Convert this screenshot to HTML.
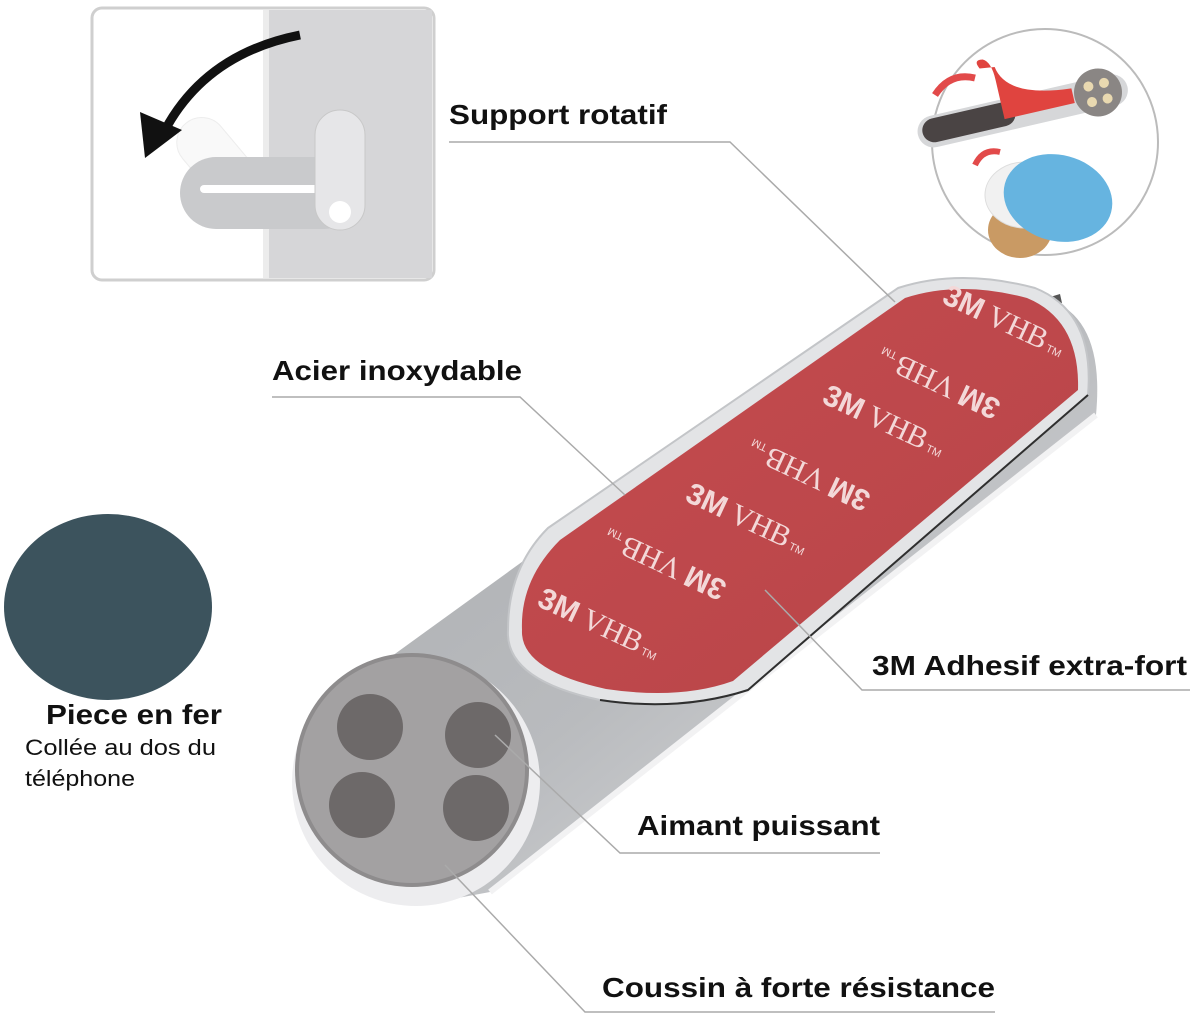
<!DOCTYPE html>
<html><head><meta charset="utf-8"><style>
html,body{margin:0;padding:0;background:#fff;}
svg{display:block;}
text{font-family:"Liberation Sans",Arial,sans-serif;fill:#111;}
.b{font-weight:bold;font-size:28px;}
.t text{fill:#f3d8d8;font-size:30px;}
.t .s{font-family:"Liberation Sans",sans-serif;font-weight:bold;}
.t .r{font-family:"Liberation Serif",serif;}
.t .m{font-size:11px;font-family:"Liberation Sans",sans-serif;}
</style></head><body>
<svg width="1200" height="1020" viewBox="0 0 1200 1020" xmlns="http://www.w3.org/2000/svg">
<defs>
<linearGradient id="sil" x1="0" y1="0" x2="1" y2="1">
<stop offset="0" stop-color="#a9abae"/><stop offset="0.5" stop-color="#b9bbbe"/><stop offset="1" stop-color="#e4e5e7"/>
</linearGradient>
<linearGradient id="red" x1="0" y1="0" x2="1" y2="1">
<stop offset="0" stop-color="#c44c4f"/><stop offset="1" stop-color="#b84448"/>
</linearGradient>
</defs>

<!-- top-left box -->
<rect x="92" y="8" width="342" height="272" rx="10" fill="#fff" stroke="#cfcfcf" stroke-width="3"/>
<rect x="268" y="10" width="164" height="268" fill="#d6d6d8"/>
<rect x="263" y="10" width="6" height="268" fill="#ececec"/>
<g opacity="0.35"><rect x="225" y="100" width="50" height="125" rx="25" fill="#eee" stroke="#ccc" transform="rotate(-40 250 200)"/></g>
<rect x="180" y="157" width="180" height="72" rx="36" fill="#c9cacc"/>
<rect x="200" y="185" width="130" height="8" rx="4" fill="#fff"/>
<rect x="315" y="110" width="50" height="120" rx="25" fill="#e6e6e8" stroke="#c8c8c8"/>
<circle cx="340" cy="212" r="11" fill="#fff"/>
<path d="M300 35 Q200 55 160 140" stroke="#111" stroke-width="9" fill="none"/>
<polygon points="145,158 140,112 182,130" fill="#111"/>

<!-- top-right circle -->
<circle cx="1045" cy="142" r="113" fill="#fff" stroke="#bbb" stroke-width="2"/>
<g transform="rotate(-13 1022 110)">
<rect x="915" y="95" width="215" height="32" rx="16" fill="#d6d7d9"/>
<rect x="920" y="98" width="95" height="24" rx="12" fill="#4a4444"/>
<path d="M990 60 Q985 50 995 52 Q1003 56 1003 75 L1003 115 L1075 115 L1075 100 Q1010 95 1005 62Z" fill="#e0443f"/>
<circle cx="1100" cy="110" r="24" fill="#8a8684"/>
<circle cx="1092" cy="102" r="5" fill="#e9d9b0"/><circle cx="1108" cy="102" r="5" fill="#e9d9b0"/><circle cx="1092" cy="118" r="5" fill="#e9d9b0"/><circle cx="1108" cy="118" r="5" fill="#e9d9b0"/>
</g>
<path d="M935 95 Q950 72 975 78" stroke="#e24a4a" stroke-width="7" fill="none"/>
<ellipse cx="1020" cy="230" rx="32" ry="28" fill="#c99a64"/>
<ellipse cx="1025" cy="195" rx="40" ry="33" fill="#f1f1f1" stroke="#ddd"/>
<ellipse cx="1058" cy="198" rx="55" ry="43" fill="#66b4e0" transform="rotate(15 1058 198)"/>
<path d="M975 165 Q983 148 1000 152" stroke="#e24a4a" stroke-width="6" fill="none"/>

<!-- left iron piece -->
<ellipse cx="108" cy="607" rx="104" ry="93" fill="#3c535d"/>

<!-- base plate -->
<path d="M345 690 L884 300 L1050 300 Q1105 320 1096 415 L490 892 L420 905 Z" fill="url(#sil)"/>
<path d="M1096 415 L490 892" stroke="#f2f2f3" stroke-width="6"/>
<path d="M884 300 L894 292 L898 302Z" fill="#777"/>
<path d="M1040 300 L1060 294 L1062 303Z" fill="#555"/>
<path d="M548 528 L898 288 Q960 268 1035 288 Q1095 312 1088 395 L748 690 Q680 712 600 700 Q505 680 508 630 Q508 568 548 528Z" fill="#e3e4e6" stroke="#c3c5c8" stroke-width="2"/>
<path d="M1088 395 L748 690 Q680 712 600 700" stroke="#2f2f2f" stroke-width="2" fill="none"/>
<path d="M560 540 L905 298 Q960 280 1027 298 Q1080 320 1078 390 L733 681 Q680 700 606 689 Q520 670 522 630 Q520 580 560 540Z" fill="url(#red)"/>
<g class="t">
<text transform="translate(1000,330) rotate(25)" text-anchor="middle"><tspan class="s">3M</tspan><tspan class="r"> VHB</tspan><tspan class="m"> TM</tspan></text>
<text transform="translate(943,374) rotate(205)" text-anchor="middle"><tspan class="s">3M</tspan><tspan class="r"> VHB</tspan><tspan class="m"> TM</tspan></text>
<text transform="translate(880,430) rotate(25)" text-anchor="middle"><tspan class="s">3M</tspan><tspan class="r"> VHB</tspan><tspan class="m"> TM</tspan></text>
<text transform="translate(813,466) rotate(205)" text-anchor="middle"><tspan class="s">3M</tspan><tspan class="r"> VHB</tspan><tspan class="m"> TM</tspan></text>
<text transform="translate(743,528) rotate(25)" text-anchor="middle"><tspan class="s">3M</tspan><tspan class="r"> VHB</tspan><tspan class="m"> TM</tspan></text>
<text transform="translate(669,555) rotate(205)" text-anchor="middle"><tspan class="s">3M</tspan><tspan class="r"> VHB</tspan><tspan class="m"> TM</tspan></text>
<text transform="translate(595,633) rotate(25)" text-anchor="middle"><tspan class="s">3M</tspan><tspan class="r"> VHB</tspan><tspan class="m"> TM</tspan></text>
</g>

<!-- magnet disk -->
<circle cx="416" cy="782" r="124" fill="#ededef"/>
<circle cx="412" cy="770" r="117" fill="#8e8c8d"/>
<circle cx="412" cy="770" r="113" fill="#a3a1a2"/>
<circle cx="370" cy="727" r="33" fill="#6d6969"/>
<circle cx="478" cy="735" r="33" fill="#6d6969"/>
<circle cx="362" cy="805" r="33" fill="#6d6969"/>
<circle cx="476" cy="808" r="33" fill="#6d6969"/>

<!-- leader lines -->
<g stroke="#aaa" stroke-width="1.5" fill="none">
<polyline points="449,142 730,142 895,302"/>
<polyline points="272,397 520,397 625,495"/>
<polyline points="1190,690 862,690 765,590"/>
<polyline points="880,853 620,853 495,735"/>
<polyline points="995,1012 585,1012 445,865"/>
</g>

<!-- labels -->
<text class="b" x="449" y="124" textLength="218" lengthAdjust="spacingAndGlyphs">Support rotatif</text>
<text class="b" x="272" y="380" textLength="250" lengthAdjust="spacingAndGlyphs">Acier inoxydable</text>
<text class="b" x="872" y="675" textLength="315" lengthAdjust="spacingAndGlyphs">3M Adhesif extra-fort</text>
<text class="b" x="637" y="835" textLength="243" lengthAdjust="spacingAndGlyphs">Aimant puissant</text>
<text class="b" x="602" y="997" textLength="393" lengthAdjust="spacingAndGlyphs">Coussin à forte résistance</text>
<text class="b" x="46" y="724" textLength="176" lengthAdjust="spacingAndGlyphs">Piece en fer</text>
<text x="25" y="755" font-size="22" textLength="191" lengthAdjust="spacingAndGlyphs">Collée au dos du</text>
<text x="25" y="786" font-size="22" textLength="110" lengthAdjust="spacingAndGlyphs">téléphone</text>
</svg>
</body></html>
